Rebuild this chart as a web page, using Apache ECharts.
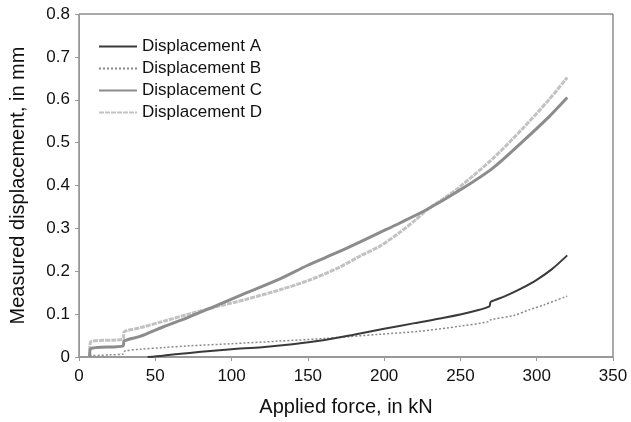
<!DOCTYPE html>
<html><head><meta charset="utf-8">
<script src="https://cdn.jsdelivr.net/npm/echarts@6/dist/echarts.min.js"></script>
<style>html,body{margin:0;padding:0;background:#fff}#c{width:631px;height:422px}</style>
</head><body><div id="c"></div>
<script>
const seriesNames = ['Displacement A','Displacement B','Displacement C','Displacement D'];
const forceA = [45,55,65,80,100,120,140,160,180,200,220,240,260,269,269.5,270,280,290,300,310,320];
const dispA  = [0,0.003,0.007,0.012,0.018,0.023,0.030,0.039,0.052,0.066,0.079,0.092,0.108,0.118,0.126,0.129,0.143,0.160,0.180,0.205,0.237];
const forceB = [7,20,29,30,40,55,72,100,131,160,197,223,250,268,270,285,295,305,320];
const dispB  = [0.003,0.005,0.007,0.014,0.018,0.022,0.026,0.031,0.037,0.043,0.053,0.060,0.072,0.082,0.087,0.097,0.110,0.122,0.142];
const forceC = [7,7.5,29,29.5,40,55,72,90,110,131,150,170,184,197,210,228,250,271,290,308,320];
const dispC  = [0,0.019,0.026,0.037,0.048,0.070,0.093,0.120,0.150,0.181,0.214,0.245,0.268,0.290,0.312,0.344,0.390,0.440,0.500,0.560,0.605];
const forceD = [7,7.5,29,29.5,40,55,72,90,110,131,150,170,184,197,210,220,228,240,250,271,290,308,320];
const dispD  = [0,0.035,0.042,0.058,0.068,0.083,0.100,0.117,0.135,0.156,0.178,0.208,0.235,0.258,0.290,0.318,0.343,0.372,0.398,0.462,0.530,0.600,0.652];
const xTicks = [0,50,100,150,200,250,300,350];
const yTicks = [0,0.1,0.2,0.3,0.4,0.5,0.6,0.7,0.8];

const zip = (xs, ys) => xs.map((x, i) => [x, ys[i]]);
const font = 'Liberation Sans, Arial, sans-serif';
const chart = echarts.init(document.getElementById('c'));
const styles = [
  {color:'#3a3a3a', width:2, type:'solid'},
  {color:'#8a8a8a', width:1.5, type:[2,2]},
  {color:'#8c8c8c', width:3, type:'solid'},
  {color:'#c2c2c2', width:3, type:[5,1]}
];
const datas = [zip(forceA,dispA), zip(forceB,dispB), zip(forceC,dispC), zip(forceD,dispD)];
chart.setOption({
  animation:false,
  backgroundColor:'#fff',
  grid:{left:78,right:18,top:14,bottom:64,show:true,borderColor:'#555',borderWidth:1,backgroundColor:'transparent'},
  legend:{
    orient:'vertical', left:93, top:33, itemWidth:38, itemHeight:12, itemGap:5,
    itemStyle:{opacity:0},
    textStyle:{fontFamily:font,fontSize:17,color:'#111'},
    data:seriesNames
  },
  xAxis:{
    type:'value', min:0, max:350, interval:50,
    name:'Applied force, in kN', nameLocation:'middle', nameGap:40,
    nameTextStyle:{fontFamily:font,fontSize:20,color:'#111'},
    axisLine:{lineStyle:{color:'#999',width:2}},
    axisTick:{show:true,length:4,lineStyle:{color:'#999'}},
    axisLabel:{fontFamily:font,fontSize:17,color:'#111',margin:11,formatter:v=>xTicks.includes(v)?String(v):''},
    splitLine:{show:false}
  },
  yAxis:{
    type:'value', min:0, max:0.8, interval:0.1,
    name:'Measured displacement, in mm', nameLocation:'middle', nameGap:51,
    nameTextStyle:{fontFamily:font,fontSize:20,color:'#111'},
    axisLine:{show:true,lineStyle:{color:'#999',width:1}},
    axisTick:{show:true,length:4,lineStyle:{color:'#999'}},
    axisLabel:{fontFamily:font,fontSize:17,color:'#111',margin:9,formatter:v=>{const t=yTicks.find(y=>Math.abs(y-v)<1e-9);return t===undefined?'':(t===0?'0':t.toFixed(1));}},
    splitLine:{show:false}
  },
  series:seriesNames.map((n,i)=>({
    name:n, type:'line', data:datas[i], showSymbol:false, symbol:'none', smooth:0.3,
    lineStyle:{color:styles[i].color,width:styles[i].width,type:styles[i].type},
    itemStyle:{color:styles[i].color}, z:[4,3,2,1][i]
  }))
});
</script></body></html>
